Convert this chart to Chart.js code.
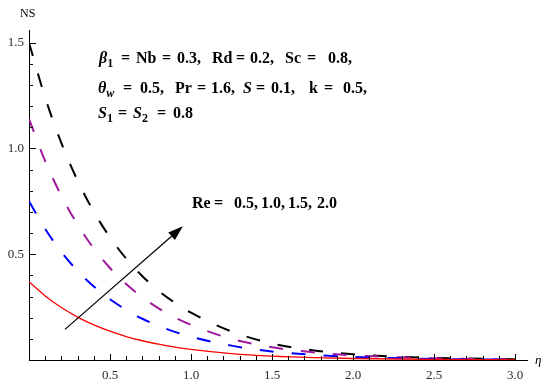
<!DOCTYPE html>
<html>
<head>
<meta charset="utf-8">
<script src="https://cdn.jsdelivr.net/npm/chart.js@4.4.1/dist/chart.umd.min.js"></script>
<style>
  html, body { margin: 0; padding: 0; background: #fff; }
  #wrap { width: 550px; height: 386px; }
</style>
</head>
<body>
<div id="wrap"><canvas id="ns" width="550" height="386"></canvas></div>
<script>
// ===================== data ===================== //
const eta = [0, 0.1, 0.2, 0.3, 0.4, 0.5, 0.6, 0.7, 0.8, 0.9, 1.0, 1.25, 1.5, 1.75, 2.0, 2.5, 3.0];

const nsRe05 = [0.37, 0.303, 0.248, 0.203, 0.166, 0.136, 0.111, 0.091, 0.075, 0.061, 0.050, 0.030, 0.018, 0.011, 0.007, 0.0025, 0.001];
const nsRe10 = [0.75, 0.619, 0.511, 0.421, 0.348, 0.287, 0.237, 0.195, 0.161, 0.133, 0.110, 0.068, 0.040, 0.025, 0.015, 0.005, 0.002];
const nsRe15 = [1.14, 0.94, 0.776, 0.64, 0.527, 0.435, 0.359, 0.296, 0.244, 0.201, 0.166, 0.100, 0.060, 0.037, 0.022, 0.008, 0.003];
const nsRe20 = [1.50, 1.24, 1.025, 0.848, 0.701, 0.580, 0.479, 0.396, 0.327, 0.271, 0.224, 0.135, 0.078, 0.046, 0.027, 0.010, 0.004];

const xTicks = [0.5, 1.0, 1.5, 2.0, 2.5, 3.0];
const yTicks = [0.5, 1.0, 1.5];

// arrow "Re increasing", in data units
const arrowFrom = [0.222, 0.145];
const arrowTo = [0.95, 0.632];

const pts = arr => arr.map((v, i) => ({ x: eta[i], y: v }));

// ===================== helpers ===================== //
const SERIF = "'Liberation Serif', 'DejaVu Serif', serif";

function segFont(st, size) {
    if (st === 'bi') return 'italic bold ' + size + 'px ' + SERIF;
    if (st === 'sub') return 'bold ' + Math.round(size * 0.72) + 'px ' + SERIF;
    if (st === 'subi') return 'italic bold ' + Math.round(size * 0.72) + 'px ' + SERIF;
    return 'bold ' + size + 'px ' + SERIF;
}

// tokens: [text, style, x]; x == null -> right after the previous token
function drawTokens(ctx, y, tokens, size) {
    let x = 0;
    tokens.forEach(([txt, st, tx]) => {
        if (tx != null) x = tx;
        ctx.font = segFont(st, size);
        const dy = (st === 'sub' || st === 'subi') ? size * 0.25 : 0;
        ctx.fillText(txt, x, y + dy);
        x += ctx.measureText(txt).width;
    });
}

// inward tick marks, labels of axes, the text and the arrow
const decorations = {
    id: 'decorations',
    afterDraw(chart) {
        const ctx = chart.ctx;
        const xs = chart.scales.x, ys = chart.scales.y;
        const area = chart.chartArea;
        ctx.save();
        ctx.strokeStyle = '#000';
        ctx.lineWidth = 1;

        // x ticks (up from the axis)
        for (let i = 1; i <= 30; i++) {
            const px = Math.round(xs.getPixelForValue(i / 10)) + 0.5;
            const len = i % 5 === 0 ? 6 : 4;
            ctx.beginPath();
            ctx.moveTo(px, area.bottom);
            ctx.lineTo(px, area.bottom - len);
            ctx.stroke();
        }
        // y ticks (right of the axis)
        for (let i = 1; i <= 15; i++) {
            const py = Math.round(ys.getPixelForValue(i / 10)) + 0.5;
            const len = i % 5 === 0 ? 7 : 4;
            ctx.beginPath();
            ctx.moveTo(area.left, py);
            ctx.lineTo(area.left + len, py);
            ctx.stroke();
        }

        // axis names
        ctx.fillStyle = '#000';
        ctx.textBaseline = 'alphabetic';
        ctx.textAlign = 'left';
        ctx.font = '12px ' + SERIF;
        ctx.fillText('NS', 20, 17);
        ctx.font = 'italic 13px ' + SERIF;
        ctx.fillText('η', 535, 364);

        // parameter text
        drawTokens(ctx, 63, [
            ['β', 'bi', 99], ['1', 'sub', null], ['=', 'b', 121], ['Nb', 'b', 136], ['=', 'b', 162],
            ['0.3,', 'b', 177], ['Rd', 'b', 212], ['=', 'b', 236], ['0.2,', 'b', 250],
            ['Sc', 'b', 285], ['=', 'b', 307], ['0.8,', 'b', 328]
        ], 16);
        drawTokens(ctx, 93, [
            ['θ', 'bi', 98], ['w', 'subi', null], ['=', 'b', 123], ['0.5,', 'b', 140],
            ['Pr', 'b', 175], ['=', 'b', 197], ['1.6,', 'b', 211], ['S', 'bi', 243],
            ['=', 'b', 256], ['0.1,', 'b', 271], ['k', 'b', 309], ['=', 'b', 324], ['0.5,', 'b', 343]
        ], 16);
        drawTokens(ctx, 118, [
            ['S', 'bi', 98], ['1', 'sub', null], ['=', 'b', 118], ['S', 'bi', 133], ['2', 'sub', null],
            ['=', 'b', 157], ['0.8', 'b', 173]
        ], 16);
        drawTokens(ctx, 208, [
            ['Re', 'b', 192], ['=', 'b', 214], ['0.5,', 'b', 234], ['1.0,', 'b', 261],
            ['1.5,', 'b', 288], ['2.0', 'b', 317]
        ], 16);

        // arrow
        const x0 = xs.getPixelForValue(arrowFrom[0]), y0 = ys.getPixelForValue(arrowFrom[1]);
        const x1 = xs.getPixelForValue(arrowTo[0]), y1 = ys.getPixelForValue(arrowTo[1]);
        const ang = Math.atan2(y1 - y0, x1 - x0);
        const hl = 15, hw = 5;
        const bx = x1 - hl * Math.cos(ang), by = y1 - hl * Math.sin(ang);
        ctx.lineWidth = 1.2;
        ctx.beginPath();
        ctx.moveTo(x0, y0);
        ctx.lineTo(bx, by);
        ctx.stroke();
        ctx.beginPath();
        ctx.moveTo(x1, y1);
        ctx.lineTo(bx + hw * Math.sin(ang), by - hw * Math.cos(ang));
        ctx.lineTo(bx - hw * Math.sin(ang), by + hw * Math.cos(ang));
        ctx.closePath();
        ctx.fill();
        ctx.restore();
    }
};

// ===================== chart ===================== //
const ctx = document.getElementById('ns');

new Chart(ctx, {
    type: 'line',
    data: {
        datasets: [
            { label: 'Re = 0.5', data: pts(nsRe05), borderColor: '#ff0000', borderWidth: 1.3 },
            { label: 'Re = 1.0', data: pts(nsRe10), borderColor: '#0000ff', borderWidth: 2, borderDash: [14, 18] },
            { label: 'Re = 1.5', data: pts(nsRe15), borderColor: '#a0189e', borderWidth: 2, borderDash: [14, 18] },
            { label: 'Re = 2.0', data: pts(nsRe20), borderColor: '#000000', borderWidth: 2, borderDash: [14, 18] }
        ]
    },
    options: {
        responsive: false,
        animation: false,
        devicePixelRatio: 1,
        layout: { padding: { top: 30, right: 23, left: 0, bottom: 0 } },
        elements: {
            point: { radius: 0 },
            line: { cubicInterpolationMode: 'monotone', fill: false }
        },
        scales: {
            x: {
                type: 'linear',
                min: 0,
                max: 3.074,
                afterFit: s => { s.height = 26; },
                afterBuildTicks: s => { s.ticks = xTicks.map(v => ({ value: v })); },
                grid: { display: false, drawTicks: false },
                border: { display: true, color: '#000', width: 1 },
                ticks: {
                    padding: 8,
                    autoSkip: false,
                    maxRotation: 0,
                    color: '#2a2a2a',
                    font: { family: SERIF, size: 13 },
                    callback: v => v.toFixed(1)
                }
            },
            y: {
                type: 'linear',
                min: 0,
                max: 1.56,
                afterFit: s => { s.width = 29; },
                afterBuildTicks: s => { s.ticks = yTicks.map(v => ({ value: v })); },
                grid: { display: false, drawTicks: false },
                border: { display: true, color: '#000', width: 1 },
                ticks: {
                    padding: 5,
                    autoSkip: false,
                    color: '#2a2a2a',
                    font: { family: SERIF, size: 13 },
                    callback: v => v.toFixed(1)
                }
            }
        },
        plugins: {
            legend: { display: false },
            tooltip: { enabled: false }
        }
    },
    plugins: [decorations]
});
</script>
</body>
</html>
